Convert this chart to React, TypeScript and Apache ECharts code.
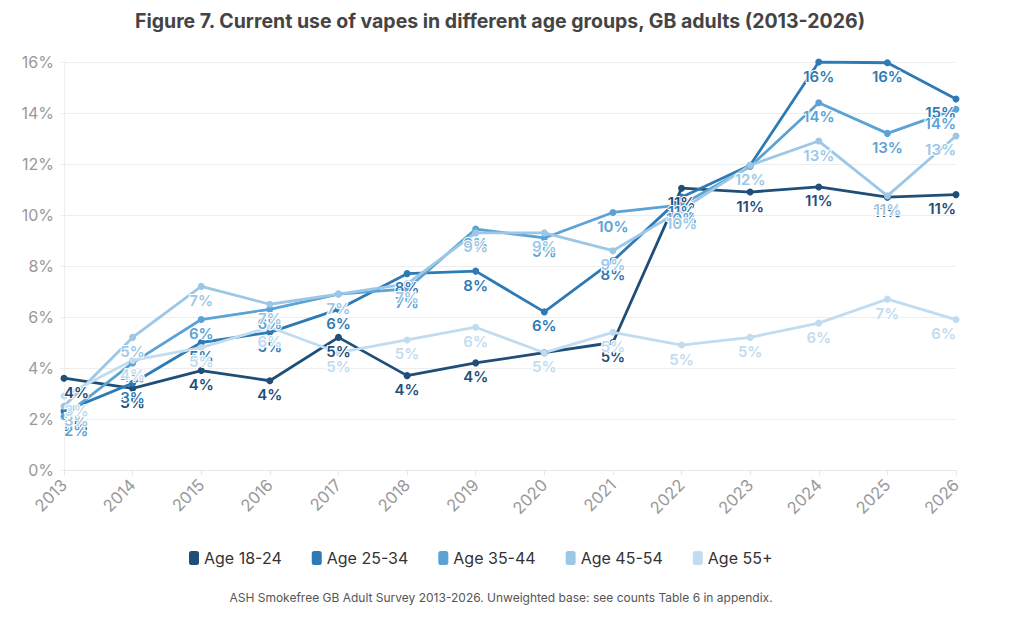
import React, { useEffect, useRef } from "react";
import * as echarts from "echarts";

const years = ["2013","2014","2015","2016","2017","2018","2019","2020","2021","2022","2023","2024","2025","2026"];
const seriesNames = ["Age 18-24", "Age 25-34", "Age 35-44", "Age 45-54", "Age 55+"];
const age1824 = [3.6, 3.2, 3.9, 3.5, 5.2, 3.7, 4.2, 4.6, 5.0, 11.05, 10.9, 11.1, 10.7, 10.8];
const age2534 = [2.3, 3.4, 5.0, 5.4, 6.3, 7.7, 7.8, 6.2, 8.2, 10.7, 11.95, 16.0, 15.97, 14.55];
const age3544 = [2.1, 4.2, 5.9, 6.3, 6.9, 7.1, 9.45, 9.1, 10.1, 10.4, 11.9, 14.4, 13.2, 14.15];
const age4554 = [2.5, 5.2, 7.2, 6.5, 6.9, 7.3, 9.3, 9.3, 8.6, 10.2, 11.95, 12.9, 10.75, 13.1];
const age55 = [2.9, 4.3, 4.8, 5.6, 4.6, 5.1, 5.6, 4.6, 5.4, 4.9, 5.2, 5.76, 6.7, 5.9];
const yTicks = [0, 2, 4, 6, 8, 10, 12, 14, 16];
const colors = ["#1f4e78", "#2e7ab5", "#5ba3d5", "#9dc7e6", "#c2dcef"];

const titleText = "Figure 7. Current use of vapes in different age groups, GB adults (2013-2026)";
const footerText = "ASH Smokefree GB Adult Survey 2013-2026. Unweighted base: see counts Table 6 in appendix.";

export default function App() {
  const ref = useRef<HTMLDivElement>(null);
  useEffect(() => {
    if (!ref.current) return;
    const chart = echarts.init(ref.current, undefined, { renderer: "svg" });
    const data = [age1824, age2534, age3544, age4554, age55];
    const toItems = (arr: number[]) =>
      arr.map((v, j) => {
        if (j === 0) return { value: v, label: { align: "left", offset: [3, 0] } };
        if (j === arr.length - 1) return { value: v, label: { align: "right", offset: [-1, 0] } };
        return v;
      });
    chart.setOption({
      animation: false,
      textStyle: { fontFamily: "Inter" },
      color: colors,
      title: [
        {
          text: titleText,
          left: 495,
          top: 6,
          textAlign: "center",
          textStyle: { fontFamily: "Inter", fontSize: 19.5, fontWeight: "bold", color: "#444" },
        },
        {
          text: footerText,
          left: 496,
          top: 586,
          textAlign: "center",
          textStyle: { fontFamily: "Inter", fontSize: 12, fontWeight: "normal", color: "#555" },
        },
      ],
      legend: {
        data: seriesNames,
        left: 184,
        top: 545,
        icon: "roundRect",
        itemWidth: 10,
        itemHeight: 14,
        itemGap: 30,
        textStyle: { fontFamily: "Inter", fontSize: 16, color: "#333" },
      },
      grid: { left: 64, right: 64, top: 62, bottom: 148, containLabel: false },
      xAxis: {
        type: "category",
        data: years,
        boundaryGap: false,
        axisLine: { lineStyle: { color: "#e6e6e6" } },
        axisTick: { show: true, length: 5, lineStyle: { color: "#e6e6e6" } },
        axisLabel: { rotate: 45, fontSize: 16.5, color: "#999", margin: 12, fontFamily: "Inter" },
      },
      yAxis: {
        type: "value",
        min: yTicks[0],
        max: yTicks[yTicks.length - 1],
        interval: 2,
        axisLine: { show: true, lineStyle: { color: "#eeeeee" } },
        axisTick: { show: true, length: 4, lineStyle: { color: "#eeeeee" } },
        splitLine: { lineStyle: { color: "#eeeeee" } },
        axisLabel: { formatter: "{value}%", fontSize: 16, color: "#999", margin: 10, fontFamily: "Inter" },
      },
      series: seriesNames.map((name, i) => ({
        name,
        type: "line",
        data: toItems(data[i]),
        symbol: "circle",
        symbolSize: 7,
        lineStyle: { width: 2.8, color: colors[i] },
        itemStyle: { color: colors[i] },
        label: {
          show: true,
          position: "bottom",
          distance: 3,
          formatter: (p: any) => Math.round(p.value) + "%",
          color: colors[i],
          fontFamily: "Inter",
          fontSize: 15,
          fontWeight: 600,
          textBorderColor: "#fff",
          textBorderWidth: 2,
        },
        labelLayout: { hideOverlap: false },
      })),
    });
    return () => chart.dispose();
  }, []);
  return <div ref={ref} style={{ position: "absolute", left: 0, top: 0, width: 1020, height: 618 }} />;
}
